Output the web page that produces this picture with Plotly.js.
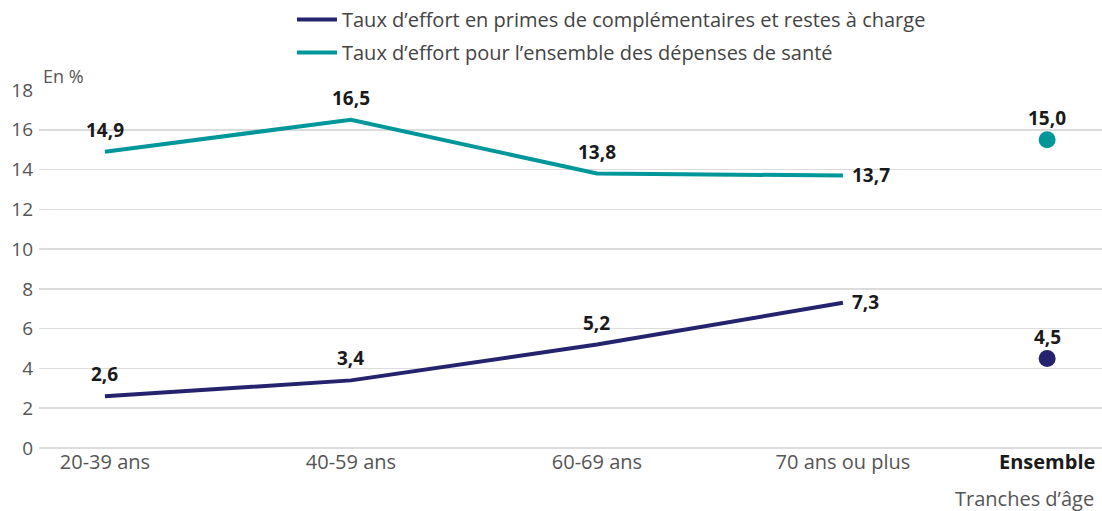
<!DOCTYPE html>
<html>
<head>
<meta charset="utf-8">
<script src="https://cdn.plot.ly/plotly-3.0.1.min.js"></script>
<style>
  html, body { margin: 0; padding: 0; background: #fff; }
  #chart { width: 1102px; height: 511px; }
</style>
</head>
<body>
<div id="chart"></div>
<script>
// data
const ageGroups = ['20-39 ans', '40-59 ans', '60-69 ans', '70 ans ou plus'];
const ensembleLabel = 'Ensemble';
const primesValues = [2.6, 3.4, 5.2, 7.3];
const santeValues = [14.9, 16.5, 13.8, 13.7];
const primesEnsemble = 4.5;
const santeEnsemble = 15.5;       // dot as drawn
const primesEnsembleText = '4,5';
const santeEnsembleText = '15,0'; // label as printed
const seriesNames = [
  'Taux d\u2019effort en primes de compl\u00e9mentaires et restes \u00e0 charge',
  'Taux d\u2019effort pour l\u2019ensemble des d\u00e9penses de sant\u00e9'
];

const NAVY = '#25236e';
const TEAL = '#00979a';
const FONT = '"Open Sans", "DejaVu Sans", sans-serif';

// x placement: the Ensemble column sits a bit closer than a full step
const agePos = ageGroups.map((_, i) => i);
const ensemblePos = 3.83;

const fmt = (v) => v.toFixed(1).replace('.', ',');

const traces = [
  {
    type: 'scatter', mode: 'lines', name: seriesNames[0],
    x: agePos, y: primesValues,
    line: { color: NAVY, width: 4 },
    legendgroup: 'a', hoverinfo: 'skip'
  },
  {
    type: 'scatter', mode: 'lines', name: seriesNames[1],
    x: agePos, y: santeValues,
    line: { color: TEAL, width: 4 },
    legendgroup: 'b', hoverinfo: 'skip'
  },
  {
    type: 'scatter', mode: 'markers', showlegend: false,
    x: [ensemblePos], y: [primesEnsemble],
    marker: { color: NAVY, size: 17 }, hoverinfo: 'skip'
  },
  {
    type: 'scatter', mode: 'markers', showlegend: false,
    x: [ensemblePos], y: [santeEnsemble],
    marker: { color: TEAL, size: 17 }, hoverinfo: 'skip'
  }
];

const labelFont = { family: FONT, size: 19, color: '#1a1a1a' };
const annotations = [];

function pushLabel(x, y, text, side) {
  if (side === 'right') {
    annotations.push({
      x, y, xref: 'x', yref: 'y', text: '<b>' + text + '</b>',
      showarrow: false, xanchor: 'left', yanchor: 'middle',
      xshift: 7, yshift: 1, font: labelFont
    });
  } else {
    annotations.push({
      x, y, xref: 'x', yref: 'y', text: '<b>' + text + '</b>',
      showarrow: false, xanchor: 'center', yanchor: 'bottom',
      yshift: 7, font: labelFont
    });
  }
}

primesValues.forEach((v, i) => pushLabel(agePos[i], v, fmt(v), i === 3 ? 'right' : 'top'));
santeValues.forEach((v, i) => pushLabel(agePos[i], v, fmt(v), i === 3 ? 'right' : 'top'));
pushLabel(ensemblePos, primesEnsemble, primesEnsembleText, 'top');
pushLabel(ensemblePos, santeEnsemble, santeEnsembleText, 'top');

annotations.push({
  text: 'En %', xref: 'paper', yref: 'paper', x: 0.002, y: 1,
  xanchor: 'left', yanchor: 'bottom', yshift: 0, showarrow: false,
  font: { family: FONT, size: 18, color: '#555' }
});
annotations.push({
  text: 'Tranches d\u2019\u00e2ge', xref: 'paper', yref: 'paper', x: 1, y: 0,
  xanchor: 'right', yanchor: 'top', yshift: -35, xshift: -6, showarrow: false,
  font: { family: FONT, size: 20, color: '#555' }
});

const layout = {
  width: 1102, height: 511,
  paper_bgcolor: '#fff', plot_bgcolor: '#fff',
  margin: { l: 39, r: 0, t: 90, b: 63 },
  font: { family: FONT, size: 19, color: '#555' },
  showlegend: true,
  legend: {
    x: 0.238, y: 1, xref: 'paper', yref: 'container', xanchor: 'left', yanchor: 'top',
    traceorder: 'grouped', tracegroupgap: 4, itemwidth: 40,
    font: { family: FONT, size: 20, color: '#444' },
    bgcolor: 'rgba(0,0,0,0)'
  },
  xaxis: {
    range: [-0.268, 4.053],
    tickvals: [...agePos, ensemblePos],
    ticktext: [...ageGroups, '<span style="color:#1a1a1a"><b>' + ensembleLabel + '</b></span>'],
    showgrid: false, zeroline: false, showline: false, ticks: '',
    tickfont: { family: FONT, size: 20, color: '#555' },
    fixedrange: true
  },
  yaxis: {
    range: [0, 18], dtick: 2,
    showgrid: true, gridcolor: '#dcdcdc', gridwidth: 1.5,
    zeroline: true, zerolinecolor: '#dcdcdc', zerolinewidth: 1.5,
    showline: false, ticks: '',
    ticklabelstandoff: 5,
    tickfont: { family: FONT, size: 19, color: '#555' },
    fixedrange: true
  },
  annotations
};

Plotly.newPlot('chart', traces, layout, { displayModeBar: false, staticPlot: true });
</script>
</body>
</html>
